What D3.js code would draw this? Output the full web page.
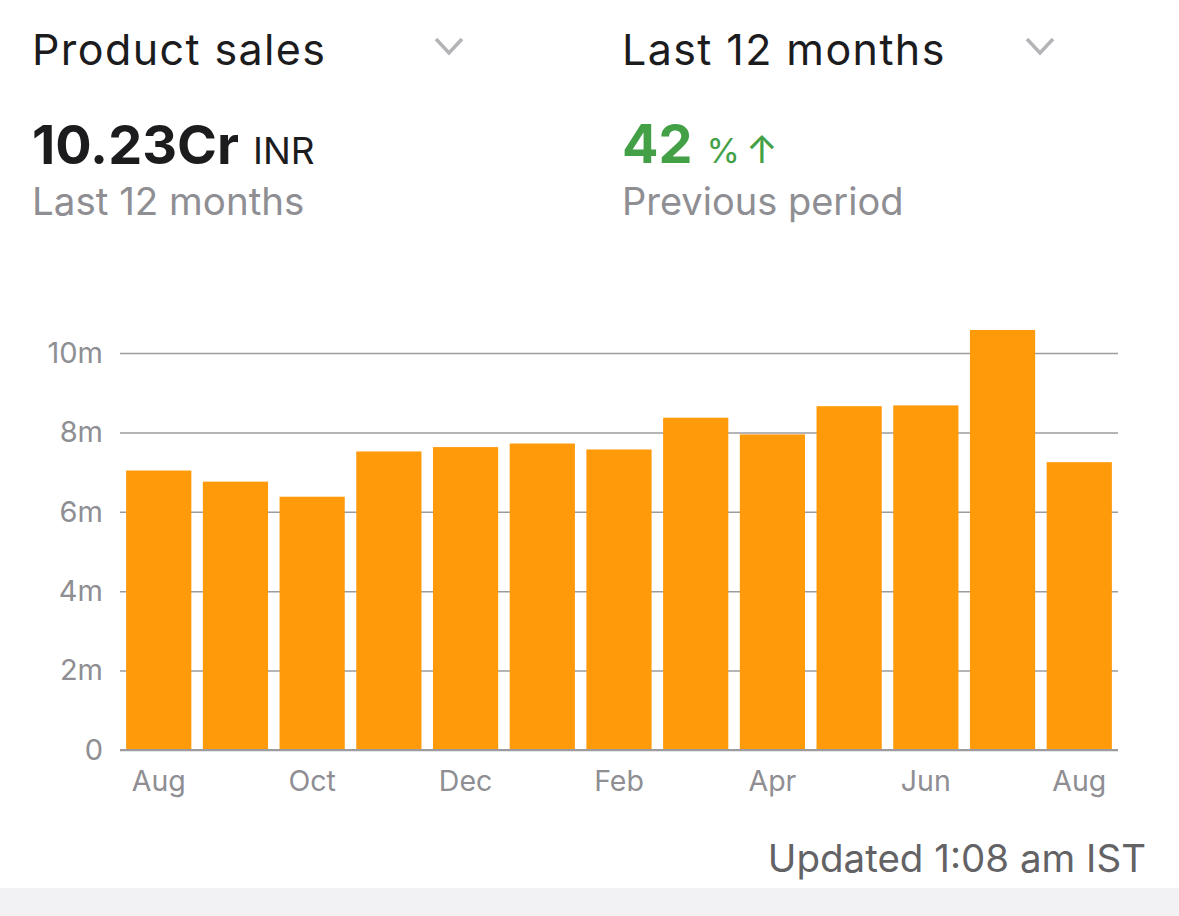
<!DOCTYPE html>
<html>
<head>
<meta charset="utf-8">
<script src="https://cdn.jsdelivr.net/npm/d3@7"></script>
<style>
  body { margin: 0; background: #fff; }
  svg { display: block; font-family: Inter, "Noto Sans", sans-serif; }
</style>
</head>
<body>
<div id="main"></div>
<script>
// months shown on the chart, Aug 2022 .. Aug 2023
var periods = ['Aug 22', 'Sep 22', 'Oct 22', 'Nov 22', 'Dec 22', 'Jan 23', 'Feb 23',
  'Mar 23', 'Apr 23', 'May 23', 'Jun 23', 'Jul 23', 'Aug 23'];
// monthly product sales, millions of INR
var sales = [7.04, 6.76, 6.38, 7.52, 7.63, 7.72, 7.57, 8.37, 7.95, 8.66, 8.68, 10.58, 7.25];
var yTicks = [0, 2, 4, 6, 8, 10];
var xTickPeriods = ['Aug 22', 'Oct 22', 'Dec 22', 'Feb 23', 'Apr 23', 'Jun 23', 'Aug 23'];

var width = 1179, height = 916;

var svg = d3.select('#main')
  .append('svg')
  .attr('width', width)
  .attr('height', height);

// header: two dropdown titles
function dropdown(x, label, chevronX) {
  svg.append('text')
    .attr('x', x)
    .attr('y', 65)
    .attr('font-size', 43)
    .attr('letter-spacing', 1.4)
    .attr('fill', '#1c1c1e')
    .text(label);
  svg.append('path')
    .attr('d', 'M' + (chevronX - 13) + ',39 L' + chevronX + ',53 L' + (chevronX + 13) + ',39')
    .attr('fill', 'none')
    .attr('stroke', '#b4b4b8')
    .attr('stroke-width', 3.5);
}
dropdown(32, 'Product sales', 449);
dropdown(622, 'Last 12 months', 1040);

// totals
var total = svg.append('text').attr('x', 32).attr('y', 164).attr('fill', '#1c1c1e');
total.append('tspan').attr('font-size', 54).attr('font-weight', 700).text('10.23Cr');
total.append('tspan').attr('font-size', 37).attr('dx', 14).text('INR');

svg.append('text')
  .attr('x', 32).attr('y', 215)
  .attr('font-size', 38.5)
  .attr('fill', '#8e8e93')
  .text('Last 12 months');

var change = svg.append('text').attr('x', 622).attr('y', 163).attr('fill', '#43a047');
change.append('tspan').attr('font-size', 54).attr('font-weight', 700).text('42');
change.append('tspan').attr('font-size', 34).attr('dx', 14).text('%');
change.append('tspan').attr('font-size', 38).attr('dx', 6).text('↑');

svg.append('text')
  .attr('x', 622).attr('y', 215)
  .attr('font-size', 38)
  .attr('fill', '#8e8e93')
  .text('Previous period');

// chart
var x = d3.scaleBand()
  .domain(periods)
  .range([120, 1118])
  .paddingInner(0.15)
  .paddingOuter(0.08);

var y = d3.scaleLinear()
  .domain([0, 10])
  .range([750, 353]);

var yAxis = svg.append('g')
  .attr('transform', 'translate(120,0)')
  .call(d3.axisLeft(y)
    .tickValues(yTicks)
    .tickSize(-(1118 - 120))
    .tickPadding(17)
    .tickFormat(function(d) { return d === 0 ? '0' : d + 'm'; }));
yAxis.select('.domain').remove();
yAxis.selectAll('line').attr('stroke', '#9c9ca0').attr('stroke-width', 1.5);
yAxis.selectAll('text')
  .attr('font-size', 29)
  .attr('fill', '#8e8e93')
  .attr('font-family', 'Inter, "Noto Sans", sans-serif');

svg.append('g')
  .selectAll('rect')
  .data(sales)
  .enter()
  .append('rect')
  .attr('x', function(d, i) { return x(periods[i]); })
  .attr('y', function(d) { return y(d); })
  .attr('width', x.bandwidth())
  .attr('height', function(d) { return y(0) - y(d); })
  .attr('fill', '#ff9a0a');

var xAxis = svg.append('g')
  .attr('transform', 'translate(0,750)')
  .call(d3.axisBottom(x)
    .tickValues(xTickPeriods)
    .tickSize(0)
    .tickPadding(21)
    .tickFormat(function(d) { return d.slice(0, 3); }));
xAxis.select('.domain').attr('stroke', '#9c9ca0').attr('stroke-width', 2)
  .attr('d', 'M120,0H1118');
xAxis.selectAll('text')
  .attr('font-size', 28.5)
  .attr('fill', '#8e8e93')
  .attr('font-family', 'Inter, "Noto Sans", sans-serif');

// footer
svg.append('text')
  .attr('x', 1146).attr('y', 872)
  .attr('text-anchor', 'end')
  .attr('font-size', 38.5)
  .attr('fill', '#636366')
  .text('Updated 1:08 am IST');

svg.append('rect')
  .attr('x', 0).attr('y', 888)
  .attr('width', width).attr('height', height - 888)
  .attr('fill', '#f2f2f5');
</script>
</body>
</html>
